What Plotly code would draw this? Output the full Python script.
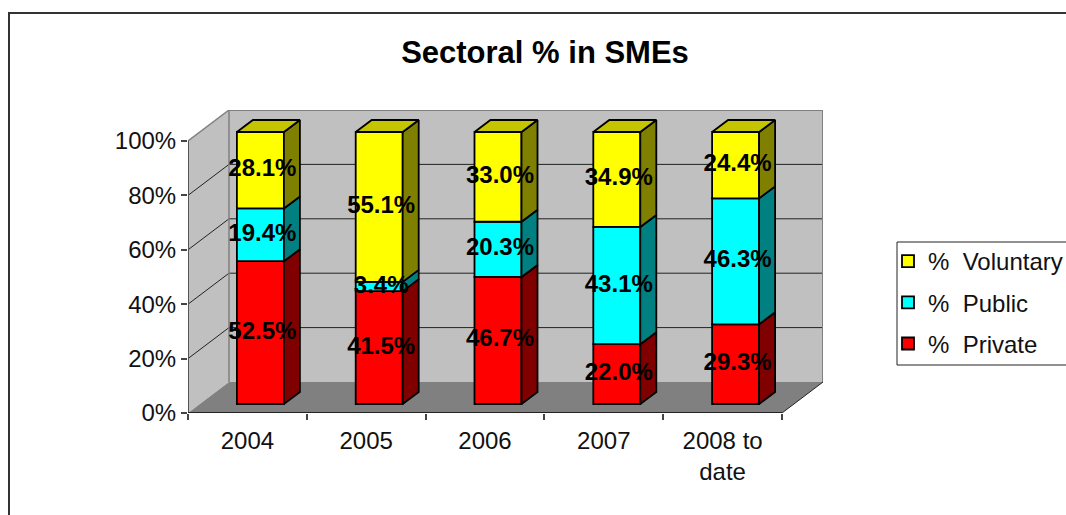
# Sectoral % in SMEs - Excel style 3D stacked columns drawn on a flat axis
import plotly.graph_objects as go

W, H = 1066, 515

categories = ["2004", "2005", "2006", "2007", "2008 to<br>date"]
private = [52.5, 41.5, 46.7, 22.0, 29.3]
public = [19.4, 3.4, 20.3, 43.1, 46.3]
voluntary = [28.1, 55.1, 33.0, 34.9, 24.4]

series_names = ["%  Private", "%  Public", "%  Voluntary"]
front_colors = ["#FF0000", "#00FFFF", "#FFFF00"]
side_colors = ["#800000", "#008080", "#808000"]
legend_ranks = [3, 2, 1]
top_color = "#C4C400"

FONT = "Liberation Sans"
EDGE = 1.8

# one category is 118.8 px wide and 100% is 272 px tall
CAT_PX = 118.8
PCT_PX = 2.72
# depth of the box and of the columns, in axis units
BOX_DX, BOX_DY = 41 / CAT_PX, 31 / PCT_PX
BAR_DX, BAR_DY = 16 / CAT_PX, 12 / PCT_PX
# columns stand part way into the box
SHIFT_X, SHIFT_Y = 13 / CAT_PX, 9 / PCT_PX
BAR_W = 47 / CAT_PX

x_lo, x_hi = -0.5, 4.5
positions = list(range(len(categories)))


def px_x(p):
    return p / W


def px_y(p):
    return 1 - p / H


fig = go.Figure()

# columns, faces and labels
bottoms = [0.0] * len(categories)
label_x, label_y, label_text = [], [], []
side_traces, top_x, top_y = [], [], []

for values, name, front, side, rank in zip([private, public, voluntary], series_names, front_colors, side_colors, legend_ranks):
    xs = [p + SHIFT_X for p in positions]
    fig.add_trace(go.Bar(
        x=xs, y=values, base=[b + SHIFT_Y for b in bottoms], width=BAR_W,
        name=name, legendgroup=name, legendrank=rank,
        marker=dict(color=front, line=dict(color="black", width=EDGE)),
        hoverinfo="skip",
    ))
    side_x, side_y = [], []
    for i, v in enumerate(values):
        y0 = bottoms[i] + SHIFT_Y
        y1 = y0 + v
        x1 = xs[i] + BAR_W / 2
        side_x += [x1, x1 + BAR_DX, x1 + BAR_DX, x1, x1, None]
        side_y += [y0, y0 + BAR_DY, y1 + BAR_DY, y1, y0, None]
        label_x.append(xs[i] + 2 / CAT_PX)
        label_y.append(y0 + v / 2)
        label_text.append(f"{v:.1f}%")
    side_traces.append((side_x, side_y, side))
    bottoms = [b + v for b, v in zip(bottoms, values)]

for i in positions:
    x0 = i + SHIFT_X - BAR_W / 2
    x1 = i + SHIFT_X + BAR_W / 2
    y1 = bottoms[i] + SHIFT_Y
    top_x += [x0, x1, x1 + BAR_DX, x0 + BAR_DX, x0, None]
    top_y += [y1, y1, y1 + BAR_DY, y1 + BAR_DY, y1, None]

for side_x, side_y, side in side_traces:
    fig.add_trace(go.Scatter(
        x=side_x, y=side_y, mode="lines", fill="toself", fillcolor=side,
        line=dict(color="black", width=EDGE), showlegend=False, hoverinfo="skip",
    ))
fig.add_trace(go.Scatter(
    x=top_x, y=top_y, mode="lines", fill="toself", fillcolor=top_color,
    line=dict(color="black", width=EDGE), showlegend=False, hoverinfo="skip",
))
fig.add_trace(go.Scatter(
    x=label_x, y=label_y, text=label_text, mode="text",
    textfont=dict(family=FONT, size=24, color="black", weight="bold"),
    showlegend=False, hoverinfo="skip",
))

# box walls, floor and gridlines
shapes = []


def poly(points, fill, line_color=None, line_width=0):
    path = "M " + " L ".join(f"{x},{y}" for x, y in points) + " Z"
    shapes.append(dict(
        type="path", path=path, xref="x", yref="y", layer="below",
        fillcolor=fill, line=dict(color=line_color or fill, width=line_width),
    ))


def seg(x0, y0, x1, y1, color, width):
    shapes.append(dict(
        type="line", x0=x0, y0=y0, x1=x1, y1=y1, xref="x", yref="y", layer="below",
        line=dict(color=color, width=width),
    ))


# chart frame and legend box go first so the walls sit on top of them
shapes.append(dict(
    type="rect", xref="paper", yref="paper", layer="below",
    x0=px_x(9), x1=px_x(W + 10), y0=px_y(H + 10), y1=px_y(13),
    fillcolor="white", line=dict(color="#333333", width=2),
))
shapes.append(dict(
    type="rect", xref="paper", yref="paper", layer="below",
    x0=px_x(897), x1=px_x(W + 10), y0=px_y(365), y1=px_y(242),
    fillcolor="white", line=dict(color="#222222", width=1),
))

poly([(x_lo + BOX_DX, BOX_DY), (x_hi + BOX_DX, BOX_DY), (x_hi + BOX_DX, 100 + BOX_DY), (x_lo + BOX_DX, 100 + BOX_DY)], "#C0C0C0")
poly([(x_lo, 0), (x_lo + BOX_DX, BOX_DY), (x_lo + BOX_DX, 100 + BOX_DY), (x_lo, 100)], "#C0C0C0")
poly([(x_lo, 0), (x_hi, 0), (x_hi + BOX_DX, BOX_DY), (x_lo + BOX_DX, BOX_DY)], "#808080")

for v in [20, 40, 60, 80]:
    seg(x_lo, v, x_lo + BOX_DX, v + BOX_DY, "#222222", 1)
    seg(x_lo + BOX_DX, v + BOX_DY, x_hi + BOX_DX, v + BOX_DY, "#222222", 1)

seg(x_lo + BOX_DX, BOX_DY, x_lo + BOX_DX, 100 + BOX_DY, "#808080", 1.5)
seg(x_lo + BOX_DX, 100 + BOX_DY, x_hi + BOX_DX, 100 + BOX_DY, "#808080", 2)
seg(x_hi + BOX_DX, BOX_DY, x_hi + BOX_DX, 100 + BOX_DY, "#808080", 2)
seg(x_lo, 100, x_lo + BOX_DX, 100 + BOX_DY, "#808080", 1.5)
seg(x_lo, 0, x_lo, 100, "#555555", 2)
seg(x_lo, 0, x_hi, 0, "#222222", 2)
seg(x_hi, 0, x_hi + BOX_DX, BOX_DY, "#222222", 1)

fig.update_layout(
    width=W, height=H,
    margin=dict(l=0, r=0, t=0, b=0, autoexpand=False),
    paper_bgcolor="white", plot_bgcolor="rgba(0,0,0,0)",
    barmode="overlay",
    shapes=shapes,
    font=dict(family=FONT, size=24, color="#111111"),
    title=dict(
        text="<b>Sectoral % in SMEs</b>", x=545 / W, y=px_y(52), xref="paper", yref="paper",
        xanchor="center", yanchor="middle",
        font=dict(family=FONT, size=31, color="black"),
    ),
    legend=dict(
        x=px_x(888), y=px_y(239), xanchor="left", yanchor="top",
        traceorder="grouped", tracegroupgap=7,
        bgcolor="rgba(0,0,0,0)", borderwidth=0,
        font=dict(family=FONT, size=24, color="#111111"),
    ),
    xaxis=dict(
        domain=[px_x(188), px_x(188 + 5 * CAT_PX + 41)],
        range=[x_lo, x_hi + BOX_DX],
        tickmode="array", tickvals=positions, ticktext=categories,
        ticks="", showgrid=False, zeroline=False, showline=False,
        minor=dict(
            tickmode="array",
            tickvals=[x_lo + i for i in range(len(categories) + 1)],
            ticks="outside", ticklen=6, tickwidth=1.5, tickcolor="#444444", showgrid=False,
        ),
        ticklabelstandoff=11,
    ),
    yaxis=dict(
        domain=[px_y(413), px_y(413 - 272 - 31)],
        range=[0, 100 + BOX_DY],
        tickmode="array", tickvals=[0, 20, 40, 60, 80, 100],
        ticktext=["0%", "20%", "40%", "60%", "80%", "100%"],
        ticks="outside", ticklen=6, tickwidth=1.5, tickcolor="#444444",
        showgrid=False, zeroline=False, showline=False,
    ),
)

# the page keeps the browser's default body margin otherwise, which shifts everything by 8 px
fig.write_html(
    "out.html",
    config={"displayModeBar": False},
    post_script="document.body.style.margin='0';document.documentElement.style.overflow='hidden';",
)
